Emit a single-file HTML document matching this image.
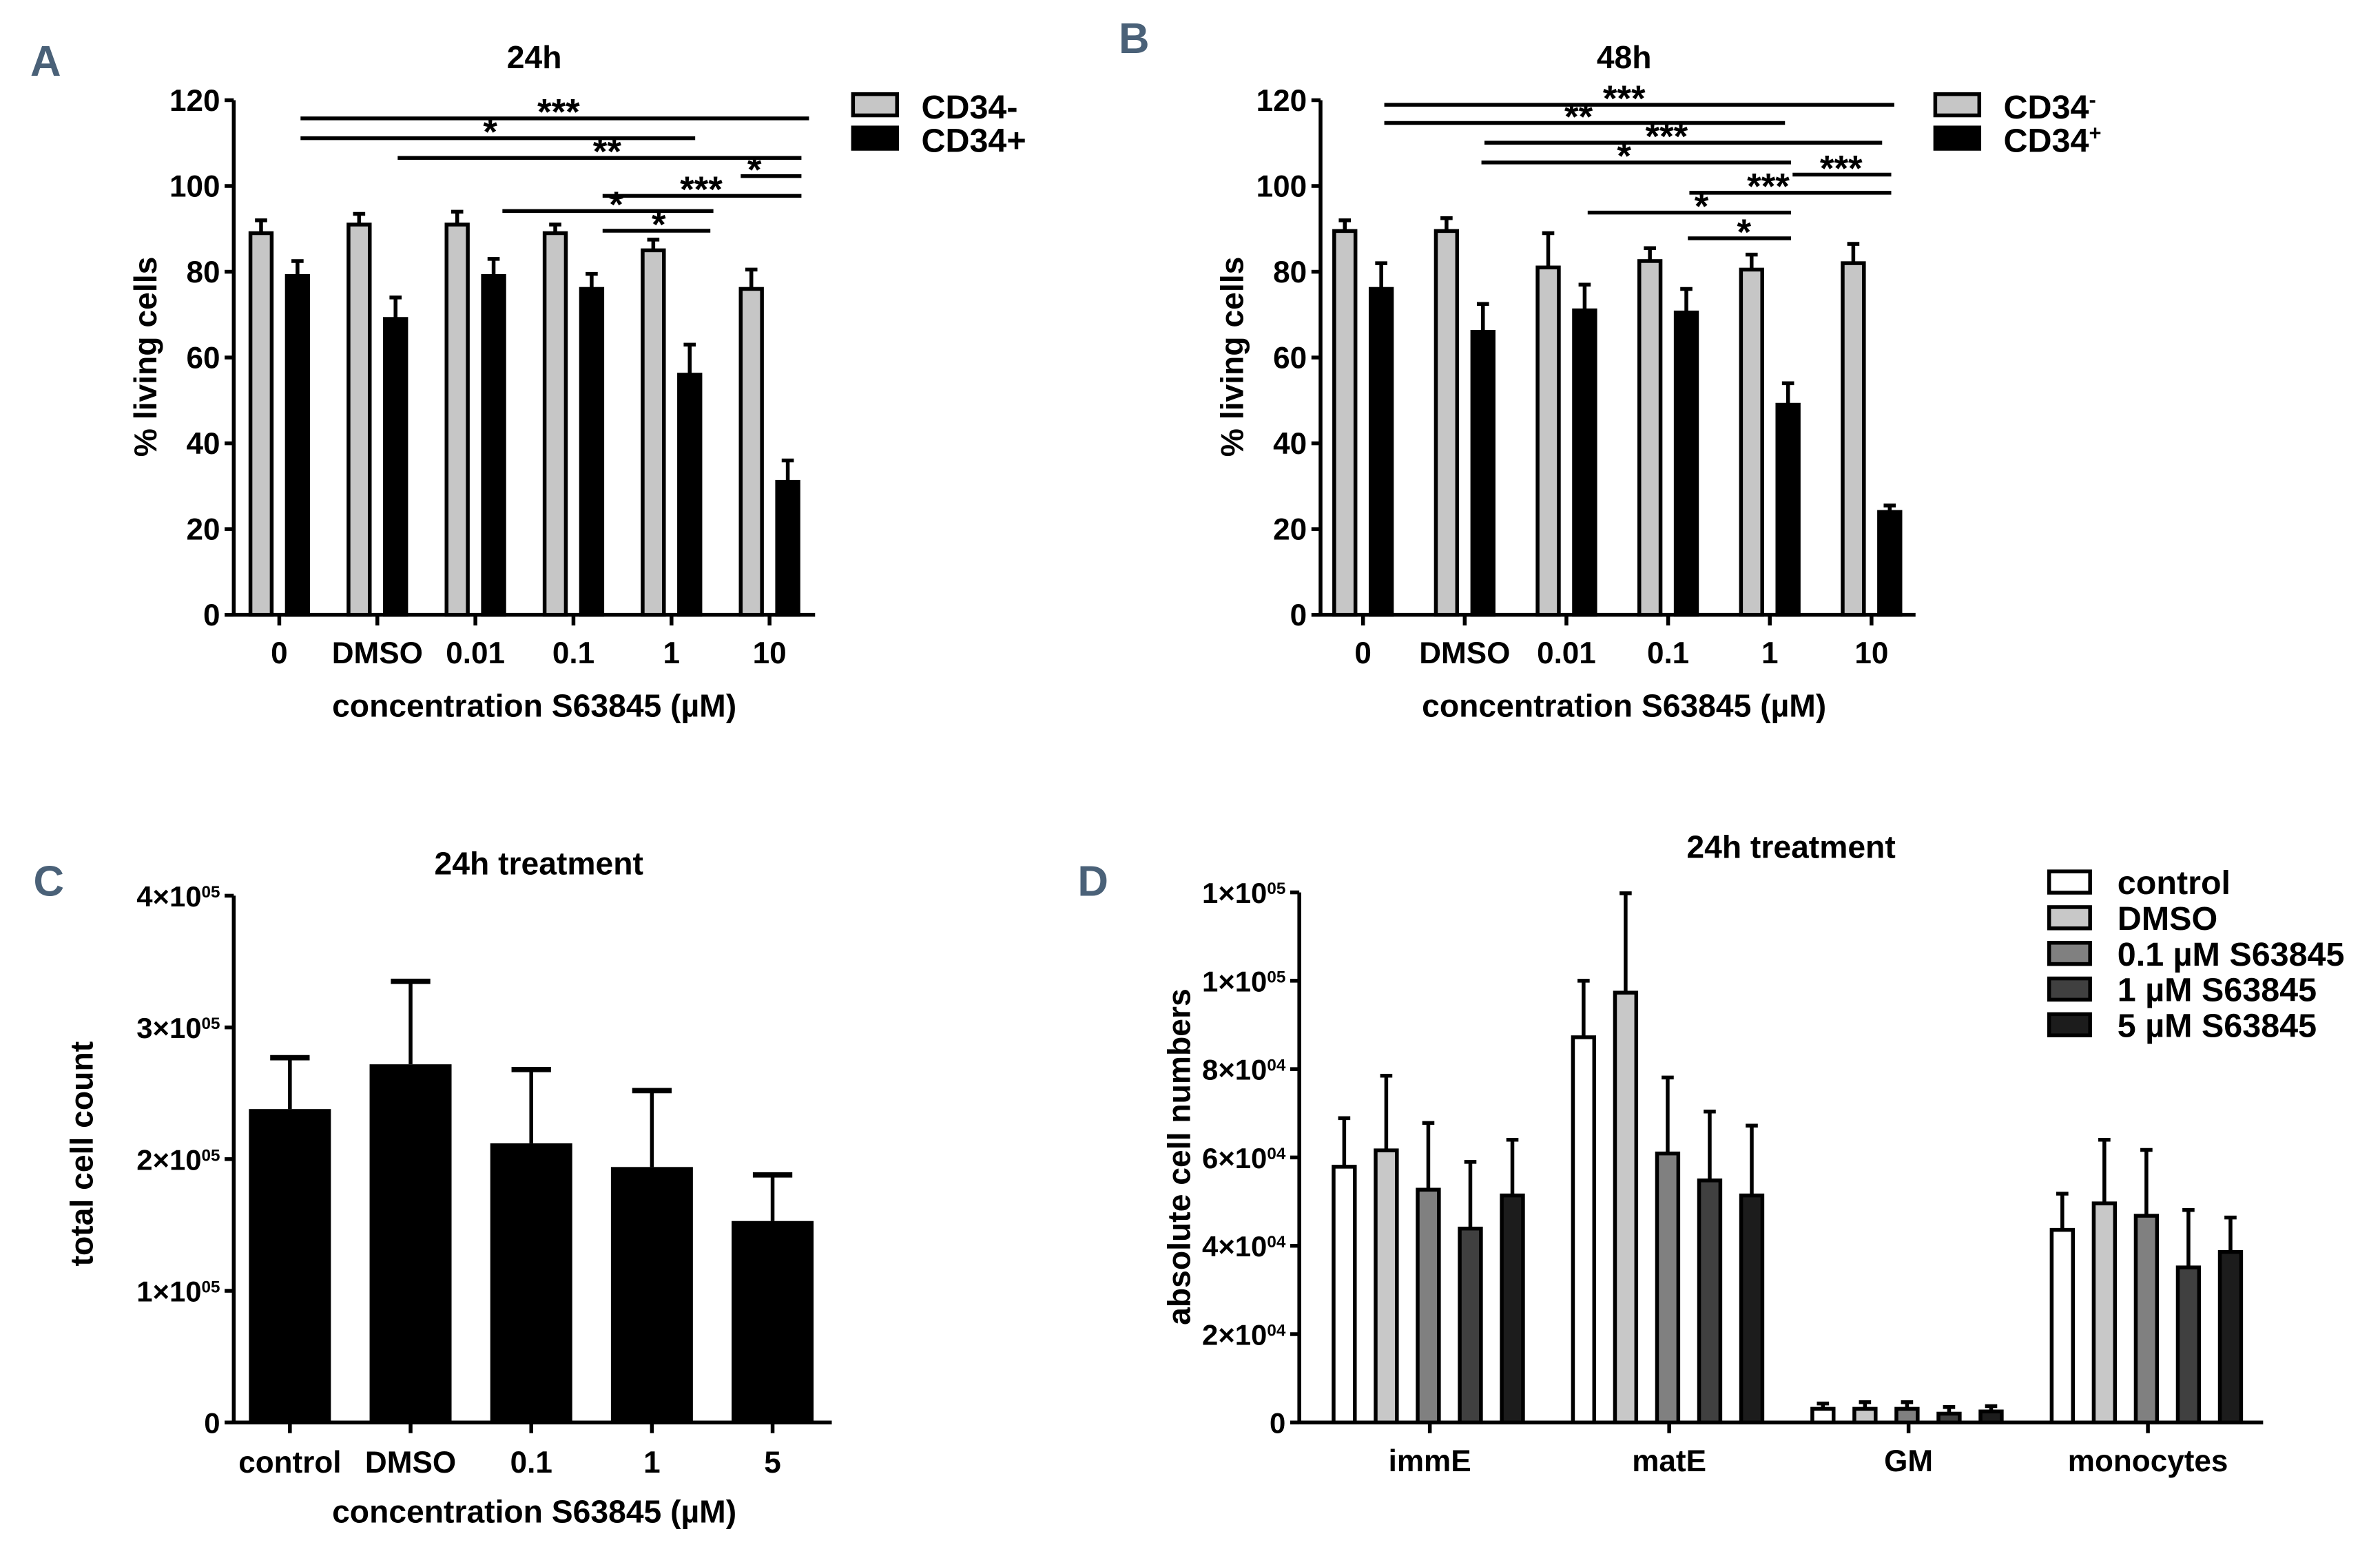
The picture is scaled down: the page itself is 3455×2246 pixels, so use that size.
<!DOCTYPE html>
<html><head><meta charset="utf-8">
<style>
html,body{margin:0;padding:0;background:#fff;}
svg{display:block;}
text{font-family:"Liberation Sans Narrow","Liberation Sans",sans-serif;font-weight:bold;fill:#000;}
.wide{font-family:"Liberation Sans",sans-serif;}
.letter{fill:#4a6178;font-family:"Liberation Sans Narrow","Liberation Sans",sans-serif;}
</style></head>
<body>
<svg id="fig" width="3455" height="2246" viewBox="0 0 1568 1019" preserveAspectRatio="none" xmlns="http://www.w3.org/2000/svg"></svg>
<script>
// ---- Panel A data ----
const catsA = ["0","DMSO","0.01","0.1","1","10"];
const negA = [89,91,91,89,85,76];
const negErrA = [3,2.5,3,2,2.5,4.5];
const posA = [79,69,79,76,56,31];
const posErrA = [3.5,5,4,3.5,7,5];
const ticksA = [0,20,40,60,80,100,120];
// ---- Panel B data ----
const catsB = ["0","DMSO","0.01","0.1","1","10"];
const negB = [89.5,89.5,81,82.5,80.5,82];
const negErrB = [2.5,3,8,3,3.5,4.5];
const posB = [76,66,71,70.5,49,24];
const posErrB = [6,6.5,6,5.5,5,1.5];
// ---- Panel C data ----
const catsC = ["control","DMSO","0.1","1","5"];
const valsC = [2.38,2.72,2.12,1.94,1.53];
const errC = [0.39,0.63,0.56,0.58,0.35];
const ticksC = [0,1,2,3,4];
// ---- Panel D data (x 10^4) ----
const groupsD = ["immE","matE","GM","monocytes"];
const seriesD = ["control","DMSO","0.1 \u00b5M S63845","1 \u00b5M S63845","5 \u00b5M S63845"];
const valsD = [[5.79,8.72,0.31,4.36],[6.16,9.73,0.31,4.96],[5.27,6.09,0.31,4.68],[4.39,5.48,0.2,3.51],[5.14,5.14,0.25,3.86]];
const errD = [[1.1,1.28,0.12,0.82],[1.69,2.25,0.15,1.44],[1.51,1.72,0.15,1.49],[1.51,1.56,0.15,1.3],[1.26,1.58,0.12,0.78]];
const ticksD = [0,2,4,6,8,10,12];
const tickLabD = ["0","2","4","6","8","1","1"];
const tickExpD = ["","04","04","04","04","05","05"];

const NS="http://www.w3.org/2000/svg";
const svg=document.getElementById('fig');
function mk(tag,attrs,parent){const e=document.createElementNS(NS,tag);for(const k in attrs)e.setAttribute(k,attrs[k]);(parent||svg).appendChild(e);return e;}
function txt(s,x,y,size,anchor,parent,cls){const t=mk('text',{x:x,y:y,'font-size':size,'text-anchor':anchor||'middle'},parent);if(cls)t.setAttribute('class',cls);t.textContent=s;return t;}

// panel letters
[["A",20,50],["B",737,35],["C",22,590],["D",710,590]].forEach(p=>{
  const t=txt(p[0],p[1],p[2],28,'start',null,'letter');
  
  
});

function groupedPanel(id,cats,neg,negErr,pos,posErr,x0,x1,ticksX,title,titleX,legendX,legendLabels,sup,sigs){
  const g=mk('g',{});
  
  
  const y0=405,yTop=66,vmax=120;
  const ys=v=>y0-(v/vmax)*(y0-yTop);
  mk('line',{x1:x0,y1:yTop,x2:x0,y2:y0+1,stroke:'#000','stroke-width':2.5},g);
  mk('line',{x1:x0,y1:y0,x2:x1,y2:y0,stroke:'#000','stroke-width':2.5},g);
  ticksA.forEach(v=>{
    mk('line',{x1:x0-6,y1:ys(v),x2:x0,y2:ys(v),stroke:'#000','stroke-width':2.5},g);
    const t=txt(String(v),x0-9,ys(v)+7,20,'end',g);
    
  });
  cats.forEach((c,i)=>{
    const cx=ticksX(i);
    mk('line',{x1:cx,y1:y0,x2:cx,y2:y0+7,stroke:'#000','stroke-width':2.5},g);
    const t=txt(c,cx,437,20,'middle',g);
    
    [[neg[i],negErr[i],'#c6c6c6',-12],[pos[i],posErr[i],'#000',12]].forEach((b,j)=>{
      const bx=cx+b[3]-7;
      const r=mk('rect',{x:bx,y:ys(b[0]),width:14,height:y0-ys(b[0]),fill:b[2],stroke:'#000','stroke-width':2.5},g);
      
      mk('line',{x1:bx+7,y1:ys(b[0]),x2:bx+7,y2:ys(b[0]+b[1]),stroke:'#000','stroke-width':2.5},g);
      mk('line',{x1:bx+3,y1:ys(b[0]+b[1]),x2:bx+11,y2:ys(b[0]+b[1]),stroke:'#000','stroke-width':2.5},g);
    });
  });
  sigs.forEach(s=>{
    mk('line',{x1:s[0],y1:s[2],x2:s[1],y2:s[2],stroke:'#000','stroke-width':2.5},g);
    txt(s[3],s[4],s[2]+4,24,'middle',g,'wide');
  });
  const tt=txt(title,titleX,45,21,'middle',g,'wide');
  
  const xt=txt('concentration S63845 (\u00b5M)',titleX,472,21,'middle',g,'wide');
  
  const yt=txt('% living cells',0,0,21,'middle',g,'wide');
  yt.setAttribute('transform','translate('+(x0-51)+',235) rotate(-90)');
  
  [['#c6c6c6',62],['#000',84]].forEach((l,i)=>{
    const r=mk('rect',{x:legendX,y:l[1],width:29,height:14,fill:l[0],stroke:'#000','stroke-width':2.5},g);
    
    const t=txt(legendLabels[i],legendX+45,l[1]+16,22,'start',g);
    
    
    if(sup){const ts=mk('tspan',{'baseline-shift':'super','font-size':14},t);ts.textContent=sup[i];}
  });
  return g;
}

groupedPanel('a',catsA,negA,negErrA,posA,posErrA,154,537,i=>184+i*64.6,'24h',352,562,['CD34-','CD34+'],null,
 [[198,533,78,'***',368],[198,458,91,'*',323],[262,528,104,'**',400],[488,528,116,'*',497],[397,528,129,'***',462],[331,470,139,'*',406],[397,468,152,'*',434]]);
groupedPanel('b',catsB,negB,negErrB,posB,posErrB,870,1262,i=>898+i*67,'48h',1070,1275,['CD34','CD34'],['-','+'],
 [[912,1248,69,'***',1070],[912,1176,81,'**',1040],[978,1240,94,'***',1098],[976,1180,107,'*',1070],[1181,1246,115,'***',1213],[1113,1246,127,'***',1165],[1046,1180,140,'*',1121],[1112,1180,157,'*',1149]]);

// ---- Panel C ----
(function(){
  const g=mk('g',{});
  
  
  const x0=154,x1=548,y0=937,per=86.75;
  const ys=v=>y0-v*per;
  mk('line',{x1:x0,y1:ys(4),x2:x0,y2:y0+1,stroke:'#000','stroke-width':2.5},g);
  mk('line',{x1:x0,y1:y0,x2:x1,y2:y0,stroke:'#000','stroke-width':2.5},g);
  ticksC.forEach(v=>{
    mk('line',{x1:x0-6,y1:ys(v),x2:x0,y2:ys(v),stroke:'#000','stroke-width':2.5},g);
    const t=txt(v===0?'0':v+'\u00d710',x0-9,ys(v)+7,19,'end',g);
    
    if(v!==0){const ts=mk('tspan',{'baseline-shift':'super','font-size':11},t);ts.textContent='05';}
  });
  catsC.forEach((c,i)=>{
    const cx=191+i*79.5;
    mk('line',{x1:cx,y1:y0,x2:cx,y2:y0+7,stroke:'#000','stroke-width':2.5},g);
    txt(c,cx,970,20,'middle',g,'wide');
    const r=mk('rect',{x:cx-27,y:ys(valsC[i]),width:54,height:y0-ys(valsC[i]),fill:'#000'},g);
    
    mk('line',{x1:cx,y1:ys(valsC[i]),x2:cx,y2:ys(valsC[i]+errC[i]),stroke:'#000','stroke-width':2.5},g);
    mk('line',{x1:cx-13,y1:ys(valsC[i]+errC[i]),x2:cx+13,y2:ys(valsC[i]+errC[i]),stroke:'#000','stroke-width':3.5},g);
  });
  txt('24h treatment',355,576,21,'middle',g,'wide');
  txt('concentration S63845 (\u00b5M)',352,1003,21,'middle',g,'wide');
  const yt=txt('total cell count',0,0,21,'middle',g,'wide');
  yt.setAttribute('transform','translate(61,760) rotate(-90)');
  
})();

// ---- Panel D ----
(function(){
  const g=mk('g',{});
  
  
  const x0=856,x1=1491,y0=937,per=29.1;
  const ys=v=>y0-v*per;
  const fills=['#fff','#c8c8c8','#808080','#404040','#1c1c1c'];
  mk('line',{x1:x0,y1:ys(12),x2:x0,y2:y0+1,stroke:'#000','stroke-width':2.5},g);
  mk('line',{x1:x0,y1:y0,x2:x1,y2:y0,stroke:'#000','stroke-width':2.5},g);
  ticksD.forEach((v,i)=>{
    mk('line',{x1:x0-6,y1:ys(v),x2:x0,y2:ys(v),stroke:'#000','stroke-width':2.5},g);
    const t=txt(i===0?'0':tickLabD[i]+'\u00d710',x0-9,ys(v)+7,19,'end',g);
    
    if(i){const ts=mk('tspan',{'baseline-shift':'super','font-size':11},t);ts.textContent=tickExpD[i];}
  });
  groupsD.forEach((gr,j)=>{
    const cx=942+j*157.7;
    mk('line',{x1:cx,y1:y0,x2:cx,y2:y0+7,stroke:'#000','stroke-width':2.5},g);
    txt(gr,cx,969,20,'middle',g,'wide');
    seriesD.forEach((s,i)=>{
      const bc=cx+(i-2)*27.7-1;
      const v=valsD[i][j],e=errD[i][j];
      const r=mk('rect',{x:bc-7,y:ys(v),width:14,height:y0-ys(v),fill:fills[i],stroke:'#000','stroke-width':2.5},g);
      
      mk('line',{x1:bc,y1:ys(v),x2:bc,y2:ys(v+e),stroke:'#000','stroke-width':2.5},g);
      mk('line',{x1:bc-4,y1:ys(v+e),x2:bc+4,y2:ys(v+e),stroke:'#000','stroke-width':2.5},g);
    });
  });
  seriesD.forEach((s,i)=>{
    const y=574+i*23.5;
    mk('rect',{x:1350,y:y,width:27,height:14,fill:fills[i],stroke:'#000','stroke-width':2.5},g);
    const t=txt(s,1395,y+15,22,'start',g,'wide');
    
    
  });
  txt('24h treatment',1180,565,21,'middle',g,'wide');
  const yt=txt('absolute cell numbers',0,0,21,'middle',g,'wide');
  yt.setAttribute('transform','translate(784,762) rotate(-90)');
  
})();
</script>
</body></html>
